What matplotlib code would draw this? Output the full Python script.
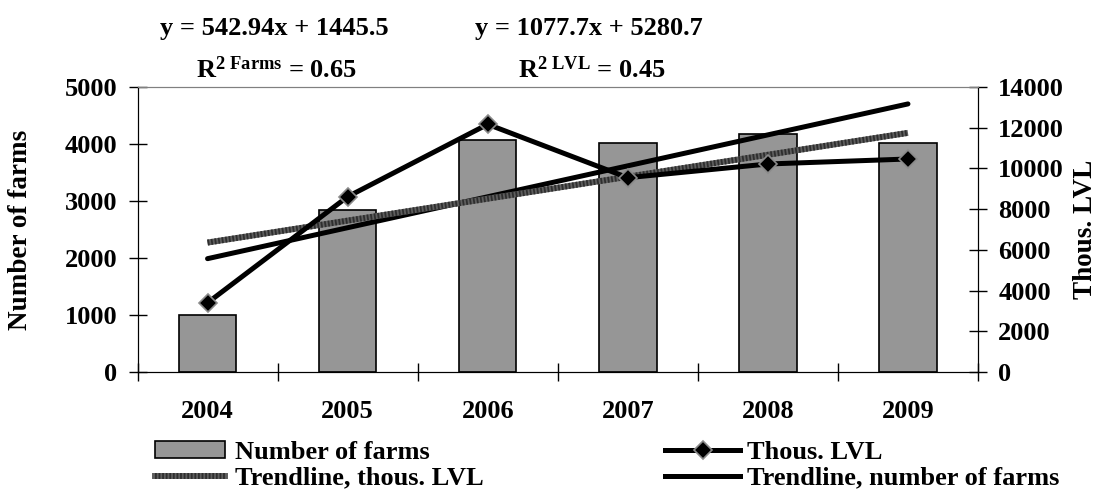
import matplotlib
matplotlib.use('Agg')
import matplotlib.pyplot as plt
import numpy as np
from matplotlib.lines import Line2D
from matplotlib.patches import Patch

# ---- data ----
years = ['2004', '2005', '2006', '2007', '2008', '2009']
farms = [1000, 2842, 4070, 4023, 4175, 4023]
thous_lvl = [3400, 8611, 12168, 9545, 10218, 10463]
farms_slope, farms_intercept = 542.94, 1445.5
lvl_slope, lvl_intercept = 1077.7, 5280.7
r2_farms = 0.65
r2_lvl = 0.45
left_ticks = [0, 1000, 2000, 3000, 4000, 5000]
right_ticks = [0, 2000, 4000, 6000, 8000, 10000, 12000, 14000]

plt.rcParams['font.family'] = ['Liberation Serif', 'DejaVu Serif']
plt.rcParams['font.weight'] = 'bold'
plt.rcParams['mathtext.fontset'] = 'custom'
plt.rcParams['mathtext.rm'] = 'Liberation Serif:bold'
plt.rcParams['mathtext.bf'] = 'Liberation Serif:bold'
plt.rcParams['mathtext.it'] = 'Liberation Serif:bold'

W, H = 1097, 490
fig = plt.figure(figsize=(W / 100, H / 100), dpi=100)
ax_left, ax_right, ax_top, ax_bot = 137.5, 978, 87, 372
ax = fig.add_axes([ax_left / W, 1 - ax_bot / H, (ax_right - ax_left) / W, (ax_bot - ax_top) / H])

x = np.arange(len(years))
trend_x = np.arange(1, len(years) + 1)
farms_trend = farms_slope * trend_x + farms_intercept
lvl_trend = lvl_slope * trend_x + lvl_intercept

FS = 19
bar_color = '#969696'
trend_gray = '#5e5e5e'
trend_dark = '#2e2e2e'

ax.bar(x, farms, width=0.41, color=bar_color, edgecolor='black', linewidth=1.2, zorder=2)
ax.plot(x, farms_trend, color='black', lw=3.6, solid_capstyle='round', zorder=3)

ax.set_xlim(-0.5, len(years) - 0.5)
ax.set_ylim(0, 5000)
ax.set_yticks(left_ticks)
ax.set_yticklabels([str(v) for v in left_ticks], fontsize=FS, fontweight='bold')
ax.set_xticks(np.arange(-0.5, len(years), 1.0))
ax.set_xticklabels([''] * (len(years) + 1))
ax.set_xticks(x, minor=True)
ax.set_xticklabels(years, minor=True, fontsize=FS, fontweight='bold')
ax.tick_params(axis='x', which='major', direction='inout', length=13, width=1)
ax.tick_params(axis='x', which='minor', length=0, pad=20)
ax.tick_params(axis='y', direction='inout', length=13, width=1, pad=8)
ax.spines['top'].set_color('#808080')
for s in ['left', 'bottom', 'right']:
    ax.spines[s].set_color('black')
ax.set_ylabel('Number of farms', fontsize=19.5, fontweight='bold')
ax.yaxis.set_label_coords((33 - ax_left) / (ax_right - ax_left), 0.5)

ax2 = ax.twinx()
ax2.set_ylim(0, 14000)
ax2.set_yticks(right_ticks)
ax2.set_yticklabels([str(v) for v in right_ticks], fontsize=FS, fontweight='bold')
ax2.tick_params(axis='y', direction='inout', length=13, width=1, pad=8)
ax2.spines['top'].set_color('#808080')
ax2.spines['right'].set_color('black')
ax2.set_ylabel('Thous. LVL', fontsize=19.5, fontweight='bold', rotation=90)
ax2.yaxis.set_label_coords((1073 - ax_left) / (ax_right - ax_left), 0.5)

ax2.plot(x, lvl_trend, color=trend_gray, lw=4.3, solid_capstyle='butt', zorder=2)
ax2.plot(x, lvl_trend, color=trend_dark, lw=4.3, dashes=(0.3, 0.3), zorder=2)
ax2.plot(x, thous_lvl, color='black', lw=3.6, marker='D', ms=9,
         mfc='black', mec='#8a8a8a', mew=1.2, zorder=4)

# equations
fig.text(160 / W, 1 - 35 / H, 'y = %.2fx + %.1f' % (farms_slope, farms_intercept),
         fontsize=FS, fontweight='bold', ha='left', va='baseline')
fig.text(196 / W, 1 - 78 / H, r'R$^{2\ \mathrm{Farms}}$ = %.2f' % r2_farms,
         fontsize=FS, fontweight='bold', ha='left', va='baseline')
fig.text(475 / W, 1 - 35 / H, 'y = %.1fx + %.1f' % (lvl_slope, lvl_intercept),
         fontsize=FS, fontweight='bold', ha='left', va='baseline')
fig.text(518 / W, 1 - 78 / H, r'R$^{2\ \mathrm{LVL}}$ = %.2f' % r2_lvl,
         fontsize=FS, fontweight='bold', ha='left', va='baseline')

# legend entries (placed individually to match the tight layout)
h_bar = Patch(facecolor=bar_color, edgecolor='black', linewidth=1.2)
h_lvltr = (Line2D([], [], color=trend_gray, lw=4.3),
           Line2D([], [], color=trend_dark, lw=4.3, dashes=(0.3, 0.3)))
h_lvl = Line2D([], [], color='black', lw=3.6, marker='D', ms=9, mfc='black', mec='#8a8a8a', mew=1.2)
h_ftr = Line2D([], [], color='black', lw=3.6)

LFS = 19
entries = [
    (h_bar, 'Number of farms', 155, 452, 2.65, 0.38),
    (h_lvltr, 'Trendline, thous. LVL', 155, 478, 2.65, 0.38),
    (h_lvl, 'Thous. LVL', 665, 452, 2.85, 0.27),
    (h_ftr, 'Trendline, number of farms', 665, 478, 2.85, 0.27),
]
for h, lab, px, py, hl, htp in entries:
    lg = fig.legend([h], [lab], frameon=False, borderpad=0, borderaxespad=0,
                    handletextpad=htp, handlelength=hl, handleheight=0.64,
                    prop={'size': LFS, 'weight': 'bold'}, loc='center left',
                    bbox_to_anchor=(px / W, 1 - py / H))

fig.savefig('out.png', dpi=100)
